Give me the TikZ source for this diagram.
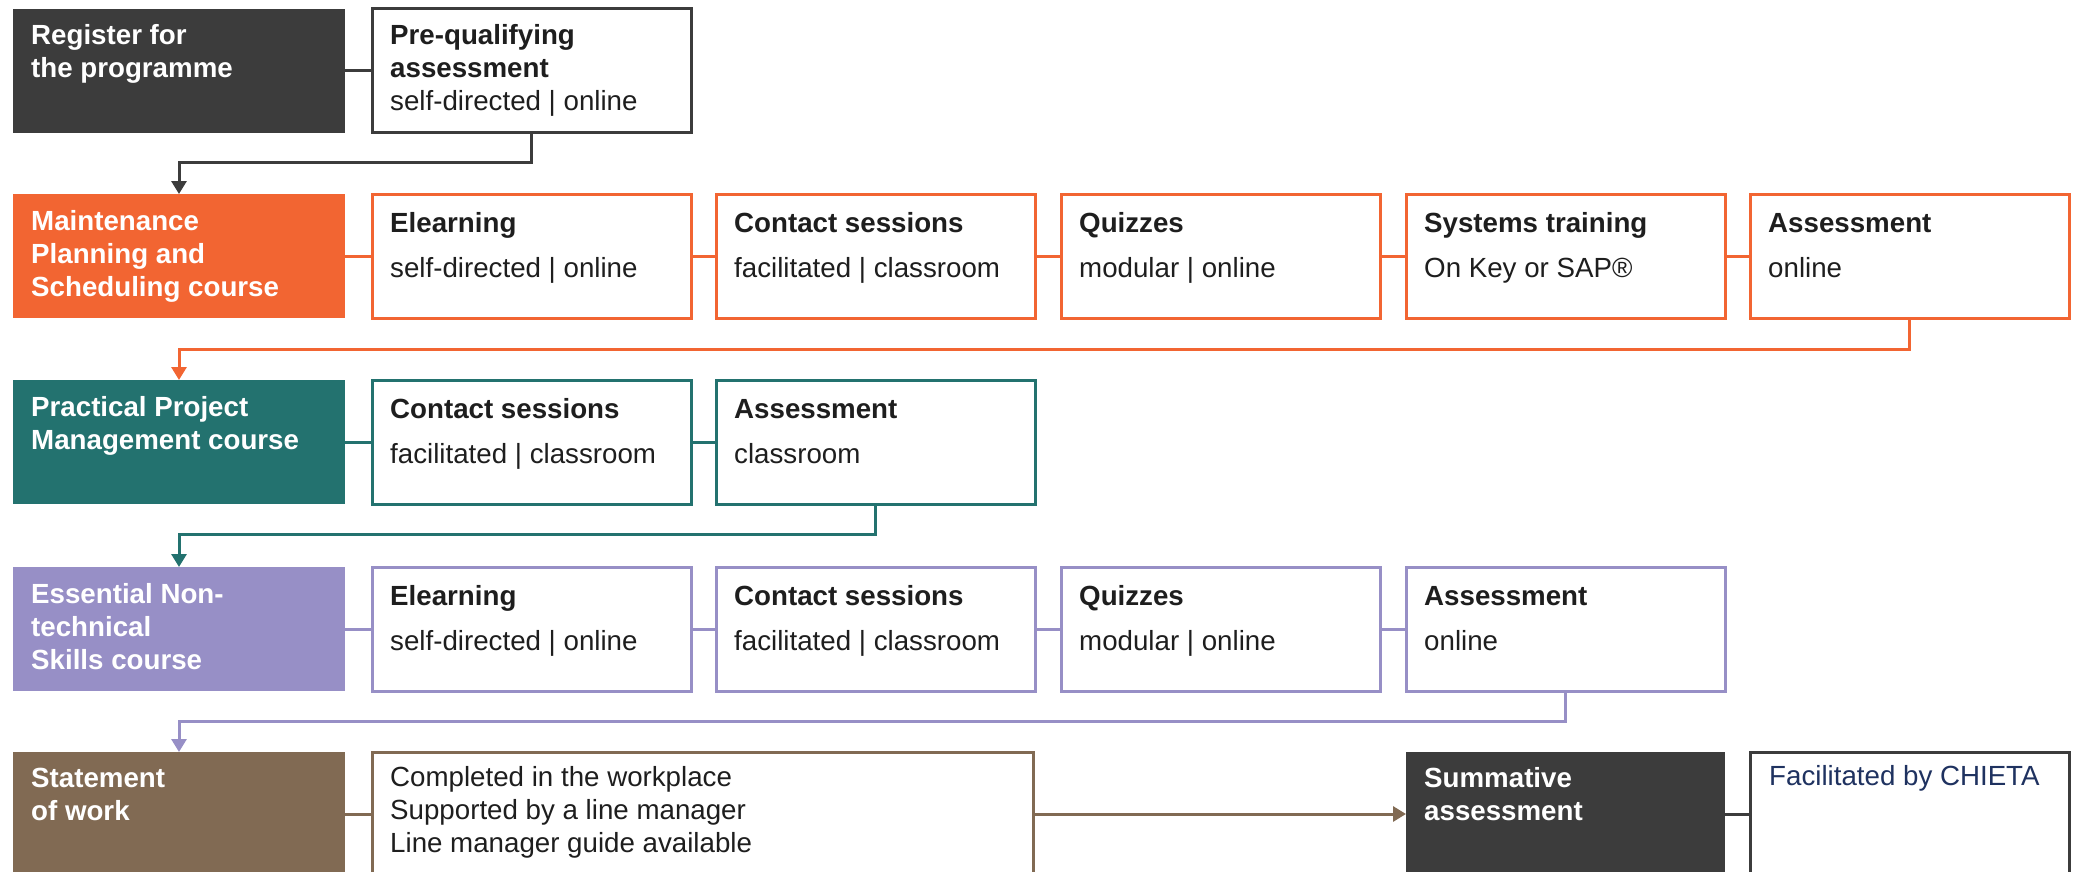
\documentclass[tikz,border=0pt]{standalone}
\usepackage{fontspec}
\setmainfont{Liberation Sans}
\usetikzlibrary{arrows.meta}
\definecolor{cdark}{HTML}{3C3C3C}
\definecolor{corange}{HTML}{F26532}
\definecolor{cteal}{HTML}{23726F}
\definecolor{cpurple}{HTML}{978FC6}
\definecolor{cbrown}{HTML}{816A53}
\definecolor{ctext}{HTML}{1E1E1E}
\definecolor{cnavy}{HTML}{1F3260}
\begin{document}
\begin{tikzpicture}[x=1pt,y=-1pt,
  fbox/.style={rectangle, inner sep=0pt, outer sep=0pt, minimum width=332pt, minimum height=124pt, anchor=north west},
  obox/.style={rectangle, draw, line width=3pt, fill=white, inner sep=0pt, outer sep=0pt, minimum width=319pt, minimum height=124pt, anchor=north west},
  txt/.style={anchor=base west, inner sep=0pt, font=\fontsize{27.7}{33}\selectfont, text=ctext},
  wtxt/.style={anchor=base west, inner sep=0pt, font=\fontsize{27.7}{33}\selectfont\bfseries, text=white},
  link/.style={draw, line width=3pt},
  arr/.style={link, -{Triangle[width=15pt,length=13pt]}}]
\useasboundingbox (0,0) rectangle (2078,872);
\clip (0,0) rectangle (2078,872);
% Row 1
\node[fbox, fill=cdark] (reg) at (13,9) {};
\node[obox, draw=cdark] (pq) at (372,9) {};
\node[wtxt] (treg) at (31,45) {\parbox[t]{300pt}{\raggedright Register for\\the programme}};
\node[txt] (tpq) at (390,45) {\parbox[t]{290pt}{\raggedright\textbf{Pre-qualifying}\\\textbf{assessment}\\self-directed | online}};
\draw[link, cdark] (reg.east) -- (pq.west);
% Row 2
\node[fbox, fill=corange] (mp) at (13,194) {};
\node[obox, draw=corange] (m1) at (372,194) {};
\node[obox, draw=corange] (m2) at (716,194) {};
\node[obox, draw=corange] (m3) at (1061,194) {};
\node[obox, draw=corange] (m4) at (1406,194) {};
\node[obox, draw=corange] (m5) at (1750,194) {};
\node[wtxt] (tmp) at (31,230) {\parbox[t]{310pt}{\raggedright Maintenance\\Planning and\\Scheduling course}};
\node[txt] (tm1) at (390,232) {\parbox[t]{290pt}{\raggedright\textbf{Elearning}\\[12pt]self-directed | online}};
\node[txt] (tm2) at (734,232) {\parbox[t]{290pt}{\raggedright\textbf{Contact sessions}\\[12pt]facilitated | classroom}};
\node[txt] (tm3) at (1079,232) {\parbox[t]{290pt}{\raggedright\textbf{Quizzes}\\[12pt]modular | online}};
\node[txt] (tm4) at (1424,232) {\parbox[t]{290pt}{\raggedright\textbf{Systems training}\\[12pt]On Key or SAP®}};
\node[txt] (tm5) at (1768,232) {\parbox[t]{290pt}{\raggedright\textbf{Assessment}\\[12pt]online}};
\draw[link, corange] (mp.east) -- (m1.west);
\draw[link, corange] (m1.east) -- (m2.west);
\draw[link, corange] (m2.east) -- (m3.west);
\draw[link, corange] (m3.east) -- (m4.west);
\draw[link, corange] (m4.east) -- (m5.west);
\draw[arr, cdark] (pq.south) -- ++(0,30) -| (mp.north);
% Row 3
\node[fbox, fill=cteal] (pp) at (13,380) {};
\node[obox, draw=cteal] (p1) at (372,380) {};
\node[obox, draw=cteal] (p2) at (716,380) {};
\node[wtxt] (tpp) at (31,416) {\parbox[t]{310pt}{\raggedright Practical Project\\Management course}};
\node[txt] (tp1) at (390,418) {\parbox[t]{290pt}{\raggedright\textbf{Contact sessions}\\[12pt]facilitated | classroom}};
\node[txt] (tp2) at (734,418) {\parbox[t]{290pt}{\raggedright\textbf{Assessment}\\[12pt]classroom}};
\draw[link, cteal] (pp.east) -- (p1.west);
\draw[link, cteal] (p1.east) -- (p2.west);
\draw[arr, corange] (m5.south) -- ++(0,31) -| (pp.north);
% Row 4
\node[fbox, fill=cpurple] (es) at (13,567) {};
\node[obox, draw=cpurple] (e1) at (372,567) {};
\node[obox, draw=cpurple] (e2) at (716,567) {};
\node[obox, draw=cpurple] (e3) at (1061,567) {};
\node[obox, draw=cpurple] (e4) at (1406,567) {};
\node[wtxt] (tes) at (31,603) {\parbox[t]{310pt}{\raggedright Essential Non-\\technical\\Skills course}};
\node[txt] (te1) at (390,605) {\parbox[t]{290pt}{\raggedright\textbf{Elearning}\\[12pt]self-directed | online}};
\node[txt] (te2) at (734,605) {\parbox[t]{290pt}{\raggedright\textbf{Contact sessions}\\[12pt]facilitated | classroom}};
\node[txt] (te3) at (1079,605) {\parbox[t]{290pt}{\raggedright\textbf{Quizzes}\\[12pt]modular | online}};
\node[txt] (te4) at (1424,605) {\parbox[t]{290pt}{\raggedright\textbf{Assessment}\\[12pt]online}};
\draw[link, cpurple] (es.east) -- (e1.west);
\draw[link, cpurple] (e1.east) -- (e2.west);
\draw[link, cpurple] (e2.east) -- (e3.west);
\draw[link, cpurple] (e3.east) -- (e4.west);
\draw[arr, cteal] (p2.south) -- ++(0,30) -| (es.north);
% Row 5
\node[fbox, fill=cbrown] (sw) at (13,752) {};
\node[obox, draw=cbrown, minimum width=661pt] (st) at (372,752) {};
\node[fbox, fill=cdark, minimum width=319pt] (sum) at (1406,752) {};
\node[obox, draw=cdark] (fac) at (1750,752) {};
\node[wtxt] (tsw) at (31,787) {\parbox[t]{310pt}{\raggedright Statement\\of work}};
\node[txt] (tst) at (390,786) {\parbox[t]{620pt}{\raggedright Completed in the workplace\\Supported by a line manager\\Line manager guide available}};
\node[wtxt] (tsum) at (1424,787) {\parbox[t]{290pt}{\raggedright Summative\\assessment}};
\node[txt, text=cnavy] (tfac) at (1769,785) {\parbox[t]{290pt}{\raggedright Facilitated by CHIETA}};
\draw[link, cbrown] (sw.east) -- (st.west);
\draw[arr, cbrown] (st.east) -- (sum.west);
\draw[link, cdark] (sum.east) -- (fac.west);
\draw[arr, cpurple] (e4.south) -- ++(0,30) -| (sw.north);
\end{tikzpicture}
\end{document}
